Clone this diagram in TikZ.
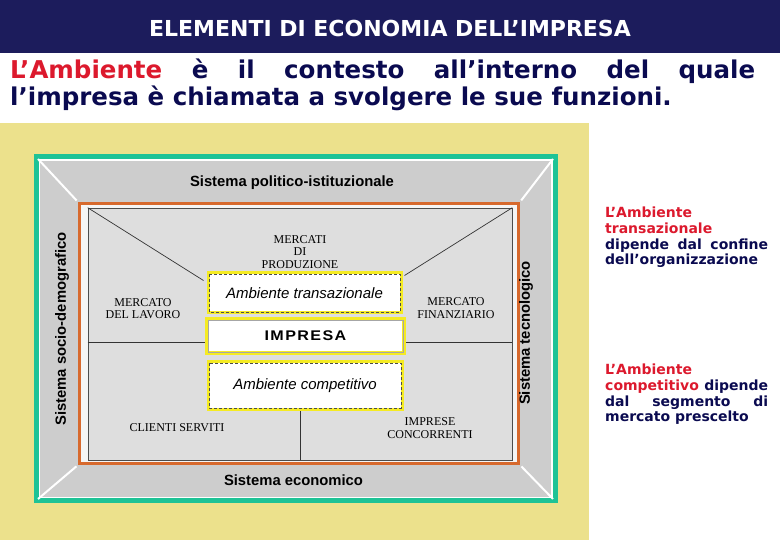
\documentclass[tikz,border=0pt]{standalone}
\usepackage{fontspec}
\usetikzlibrary{positioning}
\newfontfamily\titlefont{DejaVu Sans}
\newfontfamily\diagfont{Liberation Sans}
\newfontfamily\widefont{Liberation Sans}[FakeStretch=1.15, LetterSpace=10]
\newfontfamily\seriffont{Liberation Serif}
\definecolor{barblue}{RGB}{28,28,92}
\definecolor{inkblue}{RGB}{10,10,80}
\definecolor{inkred}{RGB}{220,25,45}
\definecolor{sand}{RGB}{236,225,140}
\definecolor{framegreen}{RGB}{30,195,150}
\definecolor{bandgray}{RGB}{205,205,205}
\definecolor{fieldgray}{RGB}{222,222,222}
\definecolor{rust}{RGB}{215,105,45}
\definecolor{lemon}{RGB}{245,235,35}
\begin{document}
\begin{tikzpicture}[x=1pt, y=-1pt,
	band/.style = {font=\diagfont\bfseries\fontsize{14.8}{16}\selectfont, inner sep=0pt},
	market/.style = {font=\seriffont\fontsize{12}{12.2}\selectfont, align=center, inner sep=0pt},
	envbox/.style = {draw=lemon, line width=3pt, fill=white,
		font=\diagfont\itshape\fontsize{15}{16}\selectfont},
	inset/.style = {black!70, line width=0.6pt, dash pattern=on 3pt off 2pt},
	line/.style = {black!80, line width=0.7pt},
	note/.style = {font=\titlefont\bfseries\fontsize{14}{15.6}\selectfont, text=inkblue,
		text width=163pt, align=justify, inner sep=0pt, anchor=north west}]
	\useasboundingbox (0,0) rectangle (780,540);
	\fill[barblue] (0,0) rectangle (780,53);
	\node[text=white, font=\titlefont\bfseries\fontsize{22}{24}\selectfont] (title) at (390,28)
		{ELEMENTI DI ECONOMIA DELL’IMPRESA};
	\node[anchor=north west, inner sep=0pt, text width=745pt, align=justify, text=inkblue,
		font=\titlefont\bfseries\fontsize{24.5}{27}\selectfont] (intro) at (10,59)
		{\textcolor{inkred}{L’Ambiente} è il contesto all’interno del quale\linebreak
		l’impresa è chiamata a svolgere le sue funzioni.};
	\fill[sand] (0,123) rectangle (589,540);
	\node[draw=white, line width=2pt, fill=bandgray, minimum width=513pt,
		minimum height=338pt, inner sep=0pt] (field) at (295.5,329) {};
	\node[draw=framegreen, line width=5pt, minimum width=519pt,
		minimum height=344pt] (frame) at (295.5,328.5) {};
	\node[draw=rust, line width=3pt, fill=gray!8, minimum width=439pt,
		minimum height=260pt] (market) at (299,333.5) {};
	\draw[white, line width=2pt, shorten >=2pt] (field.north west) -- (market.north west);
	\draw[white, line width=2pt, shorten >=2pt] (field.north east) -- (market.north east);
	\draw[white, line width=2pt, shorten >=2pt] (field.south west) -- (market.south west);
	\draw[white, line width=2pt, shorten >=2pt] (field.south east) -- (market.south east);
	\node[draw=black!70, line width=0.6pt, fill=fieldgray, minimum width=424pt,
		minimum height=252pt] (inner) at (300,334) {};
	\node[band] (politico) at (292,183) {Sistema politico-istituzionale};
	\node[band] (economico) at (293.5,480) {Sistema economico};
	\node[band, rotate=90] (socio) at (62,329) {Sistema socio-demografico};
	\node[band, rotate=90] (tecno) at (526,333) {Sistema tecnologico};
	\node[envbox, minimum width=193pt, minimum height=40pt] (trans) at (304.5,293)
		{Ambiente transazionale};
	\node[draw=lemon, line width=4pt, fill=white, minimum width=197pt, minimum height=34pt,
		font=\widefont\bfseries\fontsize{14}{15}\selectfont] (impresa) at (305.5,336) {IMPRESA};
	\node[envbox, minimum width=194pt, minimum height=47pt] (comp) at (305,385.5)
		{Ambiente competitivo};
	\foreach \b in {trans, comp}
		\draw[inset] ([xshift=2.5pt,yshift=-2.5pt]\b.north west) rectangle ([xshift=-2.5pt,yshift=2.5pt]\b.south east);
	\draw[black!35, line width=0.5pt] ([xshift=3pt,yshift=-3pt]impresa.north west)
		rectangle ([xshift=-3pt,yshift=3pt]impresa.south east);
	\draw[line] (inner.north west) -- ([xshift=-3pt,yshift=-9pt]trans.north west);
	\draw[line] (inner.north east) -- ([xshift=2pt,yshift=-4pt]trans.north east);
	\draw[line] ([yshift=-8pt]inner.west) -- ([yshift=-6pt]impresa.west);
	\draw[line] ([yshift=-8pt]inner.east) -- ([yshift=-6pt]impresa.east);
	\draw[line] (inner.south) -- (inner.south |- comp.south);
	\node[market] (produzione) at (300,252) {MERCATI\\DI\\PRODUZIONE};
	\node[market] (lavoro) at (143,309) {MERCATO\\DEL LAVORO};
	\node[market] (finanza) at (456,308) {MERCATO\\FINANZIARIO};
	\node[market] (clienti) at (177,428) {CLIENTI SERVITI};
	\node[market] (concorrenti) at (430,428) {IMPRESE\\CONCORRENTI};
	\node[note] (notetrans) at (605,207)
		{\textcolor{inkred}{L’Ambiente\\ transazionale}\\ dipende dal confine\linebreak dell’organizzazione};
	\node[note] (notecomp) at (605,364)
		{\textcolor{inkred}{L’Ambiente\\ competitivo} dipende\linebreak dal segmento di\linebreak mercato prescelto};
\end{tikzpicture}
\end{document}
